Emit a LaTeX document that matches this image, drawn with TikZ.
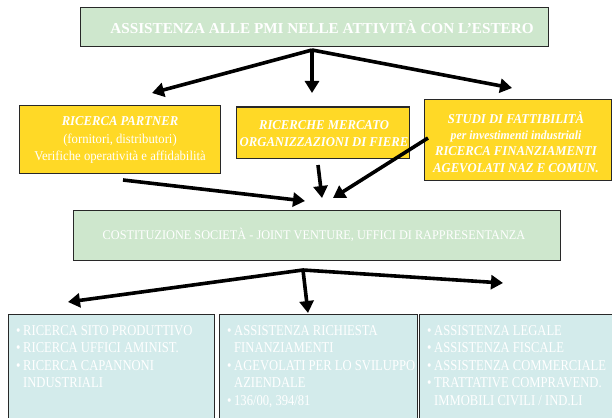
\documentclass[tikz,border=0pt]{standalone}
\usepackage{fontspec}
\setmainfont{Liberation Serif}
\newfontfamily\condT[FakeStretch=1.0]{Liberation Serif}
\newfontfamily\condA[FakeStretch=0.94]{Liberation Serif}
\newfontfamily\condM[FakeStretch=0.93]{Liberation Serif}
\newfontfamily\condB[FakeStretch=0.84]{Liberation Serif}
\usetikzlibrary{arrows.meta}
\definecolor{lgreen}{RGB}{206,231,205}
\definecolor{dyellow}{RGB}{255,217,38}
\definecolor{lcyan}{RGB}{211,235,235}
\definecolor{edge}{RGB}{40,40,40}
\newcommand\bul{\makebox[7pt][l]{•}}
\newcommand\cont{\hspace*{7pt}}
\tikzset{
  box/.style={draw=edge, line width=1pt, inner sep=0pt},
  greenbox/.style={box, fill=lgreen},
  yelbox/.style={box, fill=dyellow},
  cyanbox/.style={box, fill=lcyan},
  wtext/.style={text=white, inner sep=0pt, align=center},
  ltext/.style={text=white, inner sep=0pt, align=left, anchor=north west,
    font=\condB\fontsize{15}{17.6}\selectfont},
  arr/.style={line width=3.6pt, -{Triangle[length=12pt,width=14pt]}}
}
\begin{document}
\begin{tikzpicture}[x=1pt,y=-1pt]
\useasboundingbox (0,0) rectangle (612,417);
\clip (0,0) rectangle (612,417);
% top
\node[greenbox, minimum width=468pt, minimum height=39pt] (top) at (314,27) {};
\node[wtext, font=\condT\bfseries\fontsize{15.2}{18}\selectfont] (toptxt) at (322,27) {ASSISTENZA ALLE  PMI  NELLE ATTIVITÀ CON L’ESTERO};
% yellow boxes
\node[yelbox, minimum width=201pt, minimum height=67pt] (y1) at (119.5,139.5) {};
\node[wtext, font=\condA\fontsize{13.5}{17.5}\selectfont] (y1t) at (120,140) {\textbf{\itshape RICERCA PARTNER}\\(fornitori, distributori)\\Verifiche operatività e affidabilità};
\node[yelbox, minimum width=173pt, minimum height=51pt] (y2) at (322.5,132.5) {};
\node[wtext, font=\condA\bfseries\itshape\fontsize{13.5}{17}\selectfont] (y2t) at (324,134) {RICERCHE MERCATO\\ORGANIZZAZIONI DI FIERE};
\node[yelbox, minimum width=187pt, minimum height=80pt] (y3) at (518,140) {};
\node[wtext, font=\condA\bfseries\itshape\fontsize{13.5}{16.3}\selectfont] (y3t) at (516,142) {STUDI DI FATTIBILITÀ\\{\fontsize{12.5}{15}\selectfont per investimenti industriali}\\RICERCA FINANZIAMENTI\\AGEVOLATI NAZ E COMUN.};
% middle
\node[greenbox, minimum width=487pt, minimum height=50pt] (mid) at (316.5,235) {};
\node[wtext, font=\condM\fontsize{13.2}{15}\selectfont] (midt) at (314,235) {COSTITUZIONE SOCIETÀ - JOINT VENTURE, UFFICI DI RAPPRESENTANZA};
% bottom
\node[cyanbox, minimum width=206pt, minimum height=120pt, anchor=north west] (b1) at (8,314) {};
\node[cyanbox, minimum width=198pt, minimum height=120pt, anchor=north west] (b2) at (219,314) {};
\node[cyanbox, minimum width=200pt, minimum height=120pt, anchor=north west] (b3) at (419,314) {};
\node[ltext] (b1t) at (16,325) {\bul RICERCA SITO PRODUTTIVO\\\bul RICERCA UFFICI  AMINIST.\\\bul RICERCA CAPANNONI\\\cont INDUSTRIALI};
\node[ltext] (b2t) at (227,325) {\bul ASSISTENZA RICHIESTA\\\cont FINANZIAMENTI\\\bul AGEVOLATI PER LO SVILUPPO\\\cont AZIENDALE\\\bul 136/00, 394/81};
\node[ltext] (b3t) at (427,325) {\bul ASSISTENZA LEGALE\\\bul ASSISTENZA FISCALE\\\bul ASSISTENZA COMMERCIALE\\\bul TRATTATIVE COMPRAVEND.\\\cont IMMOBILI CIVILI / IND.LI};
% arrows top
\coordinate (s1) at (312,50);
\coordinate (e1) at (152,93);
\coordinate (e2) at (312,93);
\coordinate (e3) at (512,88);
\draw[arr] (s1) -- (e1);
\draw[arr] (s1) -- (e2);
\draw[arr] (s1) -- (e3);
% converging arrows
\coordinate (c1s) at (123,180);
\coordinate (c1e) at (305,201);
\coordinate (c2s) at (318,165);
\coordinate (c2e) at (322,198);
\coordinate (c3s) at (428,138);
\coordinate (c3e) at (333,198);
\draw[arr] (c1s) -- (c1e);
\draw[arr] (c2s) -- (c2e);
\draw[arr] (c3s) -- (c3e);
% bottom arrows
\coordinate (s2) at (303,270);
\coordinate (f1) at (68,302);
\coordinate (f2) at (308,313);
\coordinate (f3) at (503,283);
\draw[arr] (s2) -- (f1);
\draw[arr] (s2) -- (f2);
\draw[arr] (s2) -- (f3);
\end{tikzpicture}
\end{document}
